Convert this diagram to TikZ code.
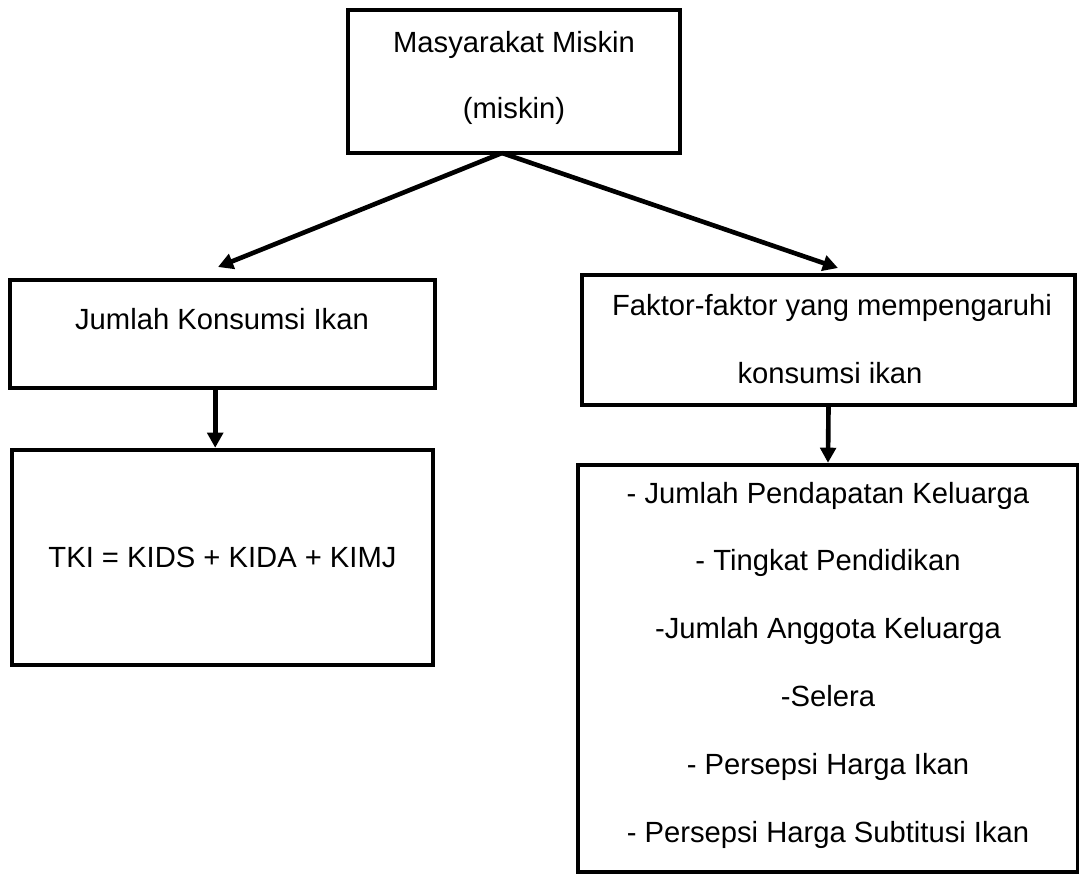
\documentclass[tikz,border=0pt]{standalone}
\usepackage{fontspec}
\setmainfont{Liberation Sans}
\usetikzlibrary{arrows.meta}

\begin{document}
\begin{tikzpicture}[x=0.411pt,y=-0.411pt,
  box/.style={draw,line width=1.8pt,inner sep=0pt},
  txt/.style={anchor=base,inner sep=0pt,font=\fontsize{12}{14}\selectfont},
  arr/.style={line width=1.9pt,-{Triangle[length=6.2pt,width=6.4pt]}}]

\useasboundingbox (0,0) rectangle (1079,875);

% Boxes
\node[box,minimum width=136.5pt,minimum height=58.8pt] (miskin) at (514,81.5) {};
\node[box,minimum width=174.7pt,minimum height=44.4pt] (jumlah) at (222.5,334) {};
\node[box,minimum width=173pt,minimum height=88.4pt] (tki) at (222.5,557.5) {};
\node[box,minimum width=202.6pt,minimum height=53.4pt] (faktor) at (828.5,340) {};
\node[box,minimum width=205.5pt,minimum height=167.3pt] (daftar) at (828,668.5) {};

% Texts
\node[txt] (m1) at (514,52) {Masyarakat Miskin};
\node[txt] (m2) at (514,118) {(miskin)};
\node[txt] (j1) at (222,329) {Jumlah Konsumsi Ikan};
\node[txt] (t1) at (222.5,567) {TKI = KIDS + KIDA + KIMJ};
\node[txt] (f1) at (832,315) {Faktor-faktor yang mempengaruhi};
\node[txt] (f2) at (830,383) {konsumsi ikan};

% List of factors
\foreach \t [count=\i] in {- Jumlah Pendapatan Keluarga, - Tingkat Pendidikan,
    -Jumlah Anggota Keluarga, -Selera, - Persepsi Harga Ikan,
    - Persepsi Harga Subtitusi Ikan} {
    \node[txt] (d\i) at (828,{503+67.8*(\i-1)}) {\t};
}

% Arrows
\coordinate (pisah) at (502,153);
\coordinate (kiri) at (218,267);
\coordinate (kanan) at (838,268);
\draw[arr] (pisah) -- (kiri);
\draw[arr] (pisah) -- (kanan);
\draw[arr] ([xshift=-3pt]jumlah.south) -- ([xshift=-3pt]tki.north);
\draw[arr] (faktor.south) -- (daftar.north);
\end{tikzpicture}
\end{document}
